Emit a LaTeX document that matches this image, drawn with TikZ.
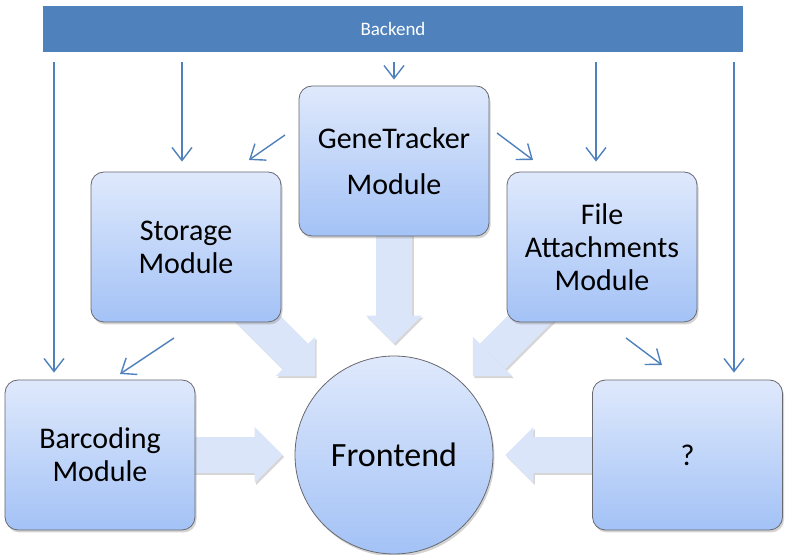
\documentclass[tikz,border=0pt]{standalone}
\usepackage{fontspec}
\setmainfont{Carlito}
\usetikzlibrary{arrows.meta,shadows,calc}
\pgfdeclarelayer{bg}
\pgfsetlayers{bg,main}
\definecolor{accent}{RGB}{79,129,189}
\definecolor{boxtop}{RGB}{223,233,252}
\definecolor{boxbot}{RGB}{163,194,246}
\definecolor{blockfill}{RGB}{218,229,250}
\definecolor{edgecol}{RGB}{105,105,112}
\begin{document}
\begin{tikzpicture}[x=1bp,y=1bp,
  module/.style={rectangle, rounded corners=13bp, draw=edgecol, line width=0.8bp,
    top color=boxtop, bottom color=boxbot, minimum width=190bp, minimum height=150bp,
    align=center, inner sep=0pt, font=\fontsize{30bp}{33bp}\selectfont,
    drop shadow={shadow xshift=1.5bp, shadow yshift=-2.5bp, opacity=0.35}},
  thinarrow/.style={draw=accent, line width=1.4bp, -{Straight Barb[length=13bp,width=20bp]}},
  blockarrow/.style={draw=blockfill, line width=36bp,
    -{Triangle[width=56bp,length=28bp,line width=0pt]}, shorten >=12bp},
  blockshadow/.style={draw=black!16, line width=36bp,
    -{Triangle[width=56bp,length=28bp,line width=0pt]}, shorten >=12bp,
    transform canvas={xshift=1.5bp,yshift=-2bp}}
]
\useasboundingbox (0,0) rectangle (789,555);

% backend bar
\node[rectangle, fill=accent, minimum width=700bp, minimum height=46bp, inner sep=0pt,
  text=white, font=\fontsize{19bp}{22bp}\selectfont] (backend) at (393,526) {Backend};

% modules
\node[module] (gt) at (394,394) {GeneTracker\\[13bp]Module};
\node[module] (stor) at (186,308) {Storage\\Module};
\node[module] (file) at (602,308) {File\\Attachments\\Module};
\node[module] (bar) at (100,100) {Barcoding\\Module};
\node[module] (q) at (687.5,100) {?};
\node[circle, draw=edgecol, line width=0.8bp, top color=boxtop, bottom color=boxbot,
  minimum size=198bp, inner sep=0pt, font=\fontsize{34bp}{40bp}\selectfont,
  drop shadow={shadow xshift=1.5bp, shadow yshift=-2.5bp, opacity=0.35}] (front) at (394,100) {Frontend};

% block arrows (behind modules)
\begin{pgfonlayer}{bg}
  \foreach \src in {gt,stor,file,bar,q}{
    \draw[blockshadow] (\src.center) -- (front);
  }
  \foreach \src in {gt,stor,file,bar,q}{
    \draw[blockarrow] (\src.center) -- (front);
  }
\end{pgfonlayer}

% thin arrows from backend
\coordinate (s1) at (54,493);
\coordinate (s2) at (182,493);
\coordinate (s3) at (394,493);
\coordinate (s4) at (596,493);
\coordinate (s5) at (734,493);
\draw[thinarrow] (s1) -- ($(bar.north -| s1)+(0,7)$);
\draw[thinarrow] (s2) -- ($(stor.north -| s2)+(0,10)$);
\draw[thinarrow] (s3) -- ($(gt.north -| s3)+(0,6)$);
\draw[thinarrow] (s4) -- ($(file.north -| s4)+(0,10)$);
\draw[thinarrow] (s5) -- ($(q.north -| s5)+(0,7)$);

% thin diagonal arrows
\coordinate (d1s) at (285,420); \coordinate (d1e) at (249,395);
\coordinate (d2s) at (497,422); \coordinate (d2e) at (533,395);
\coordinate (d3s) at (174,217); \coordinate (d3e) at (120,181);
\coordinate (d4s) at (626,217); \coordinate (d4e) at (662,190);
\draw[thinarrow] (d1s) -- (d1e);
\draw[thinarrow] (d2s) -- (d2e);
\draw[thinarrow] (d3s) -- (d3e);
\draw[thinarrow] (d4s) -- (d4e);
\end{tikzpicture}
\end{document}
